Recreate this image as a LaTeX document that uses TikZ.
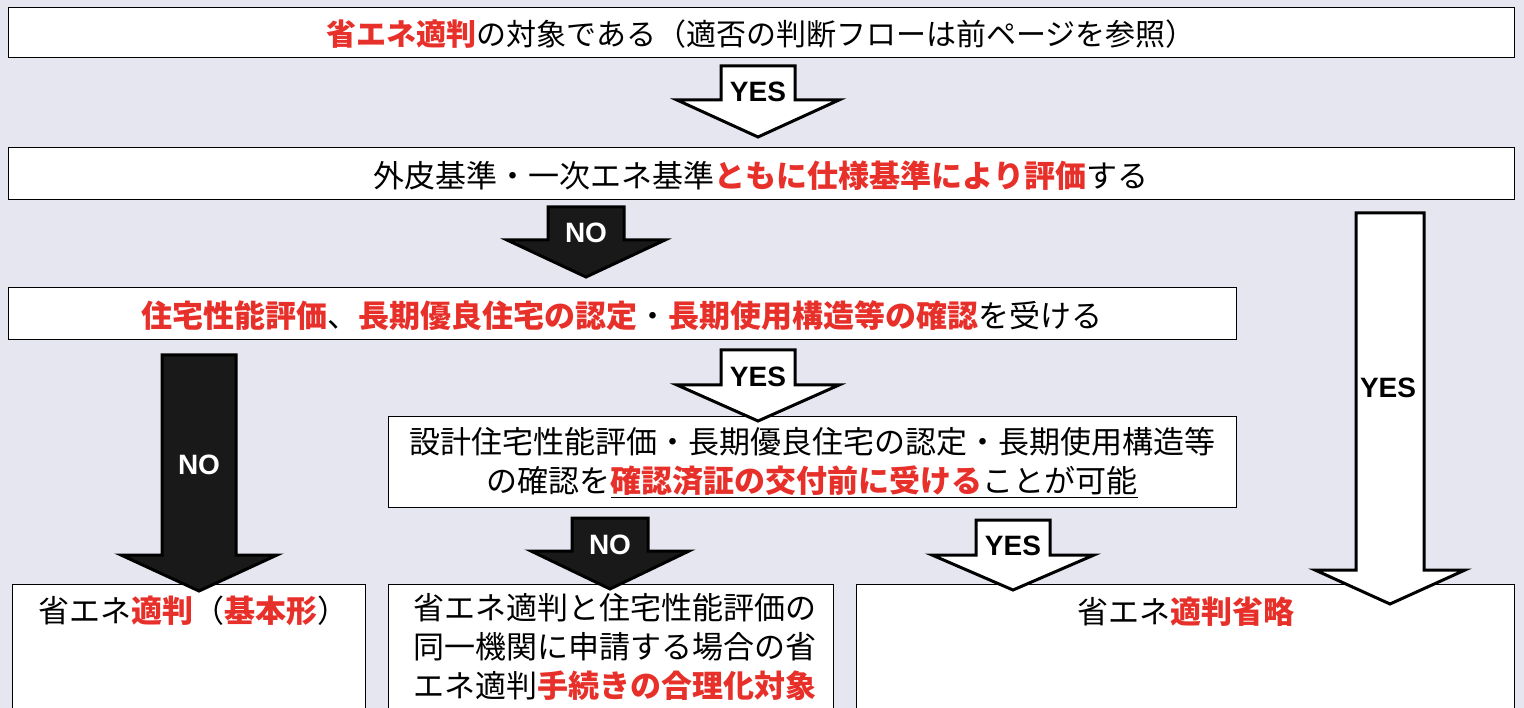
\documentclass[tikz,border=0pt]{standalone}
\usepackage{fontspec}
\setmainfont{Noto Sans CJK JP}
\newfontfamily\lab{Liberation Sans}
\definecolor{bg}{HTML}{E6E6F0}
\definecolor{rd}{HTML}{E8302A}
\newcommand\R[1]{\textcolor{rd}{\bfseries #1}}
% block arrow: cx, shaft half width, head half width, top y, head start y, tip y, fill
\newcommand\barrow[7]{%
  \fill[#7,draw=black,line width=3pt,line join=miter]
   ({#1-#2},#4) -- ({#1+#2},#4) -- ({#1+#2},#5) -- ({#1+#3},#5) -- (#1,#6)
   -- ({#1-#3},#5) -- ({#1-#2},#5) -- cycle;}
\begin{document}
\begin{tikzpicture}[x=1pt,y=-1pt,
  box/.style={draw=black,line width=1pt,fill=white,inner sep=0pt},
  lbl/.style={font=\lab\bfseries\fontsize{28}{28}\selectfont,inner sep=1pt},
  f26/.style={font=\fontsize{30}{32}\selectfont},
  f28/.style={font=\fontsize{31}{34}\selectfont},
  f30/.style={font=\fontsize{31}{39}\selectfont}]
\fill[bg] (0,0) rectangle (1524,708);
\useasboundingbox (0,0) rectangle (1524,708);
% boxes
\draw[box] (8,8) rectangle (1514,58);
\node[f26] (t1) at (761,34) {\R{省エネ適判}の対象である（適否の判断フローは前ページを参照）};
\draw[box] (8,148) rectangle (1514,200);
\node[f28] (t2) at (761,176) {外皮基準・一次エネ基準\R{ともに仕様基準により評価}する};
\draw[box] (8,288) rectangle (1236,340);
\node[f28] (t3) at (622,316) {\R{住宅性能評価}、\R{長期優良住宅の認定}・\R{長期使用構造等の確認}を受ける};
\draw[box] (388,417) rectangle (1236,507);
\node[f30,align=center] (t4) at (812,463) {設計住宅性能評価・長期優良住宅の認定・長期使用構造等\\の確認を\underline{\R{確認済証の交付前に受ける}ことが可能}};
\draw[box] (12,584) rectangle (365,712);
\node[f30,anchor=north west] (t5) at (35,592) {省エネ\R{適判}（\R{基本形}）};
\draw[box] (388,584) rectangle (833,712);
\node[f30,anchor=north west,align=left] (t6) at (410,590) {省エネ適判と住宅性能評価の\\同一機関に申請する場合の省\\エネ適判\R{手続きの合理化対象}};
\draw[box] (856,584) rectangle (1514,712);
\node[f30] (t7) at (1186,612) {省エネ\R{適判省略}};
% arrows
\barrow{758}{37}{81}{66}{100}{137}{white}
\node[lbl] (y1) at (758,92) {YES};
\barrow{586}{38}{79}{207}{240}{277}{black!90}
\node[lbl,text=white] (n1) at (586,233) {NO};
\barrow{1390}{34}{75}{213}{570}{604}{white}
\node[lbl] (y2) at (1388,388) {YES};
\barrow{199}{37}{78}{355}{555}{591}{black!90}
\node[lbl,text=white] (n2) at (199,465) {NO};
\barrow{758}{37}{81}{350}{385}{421}{white}
\node[lbl] (y3) at (758,377) {YES};
\barrow{610}{38}{79}{518}{551}{589}{black!90}
\node[lbl,text=white] (n3) at (610,545) {NO};
\barrow{1013}{37}{81}{520}{555}{590}{white}
\node[lbl] (y4) at (1013,546) {YES};
\end{tikzpicture}
\end{document}
